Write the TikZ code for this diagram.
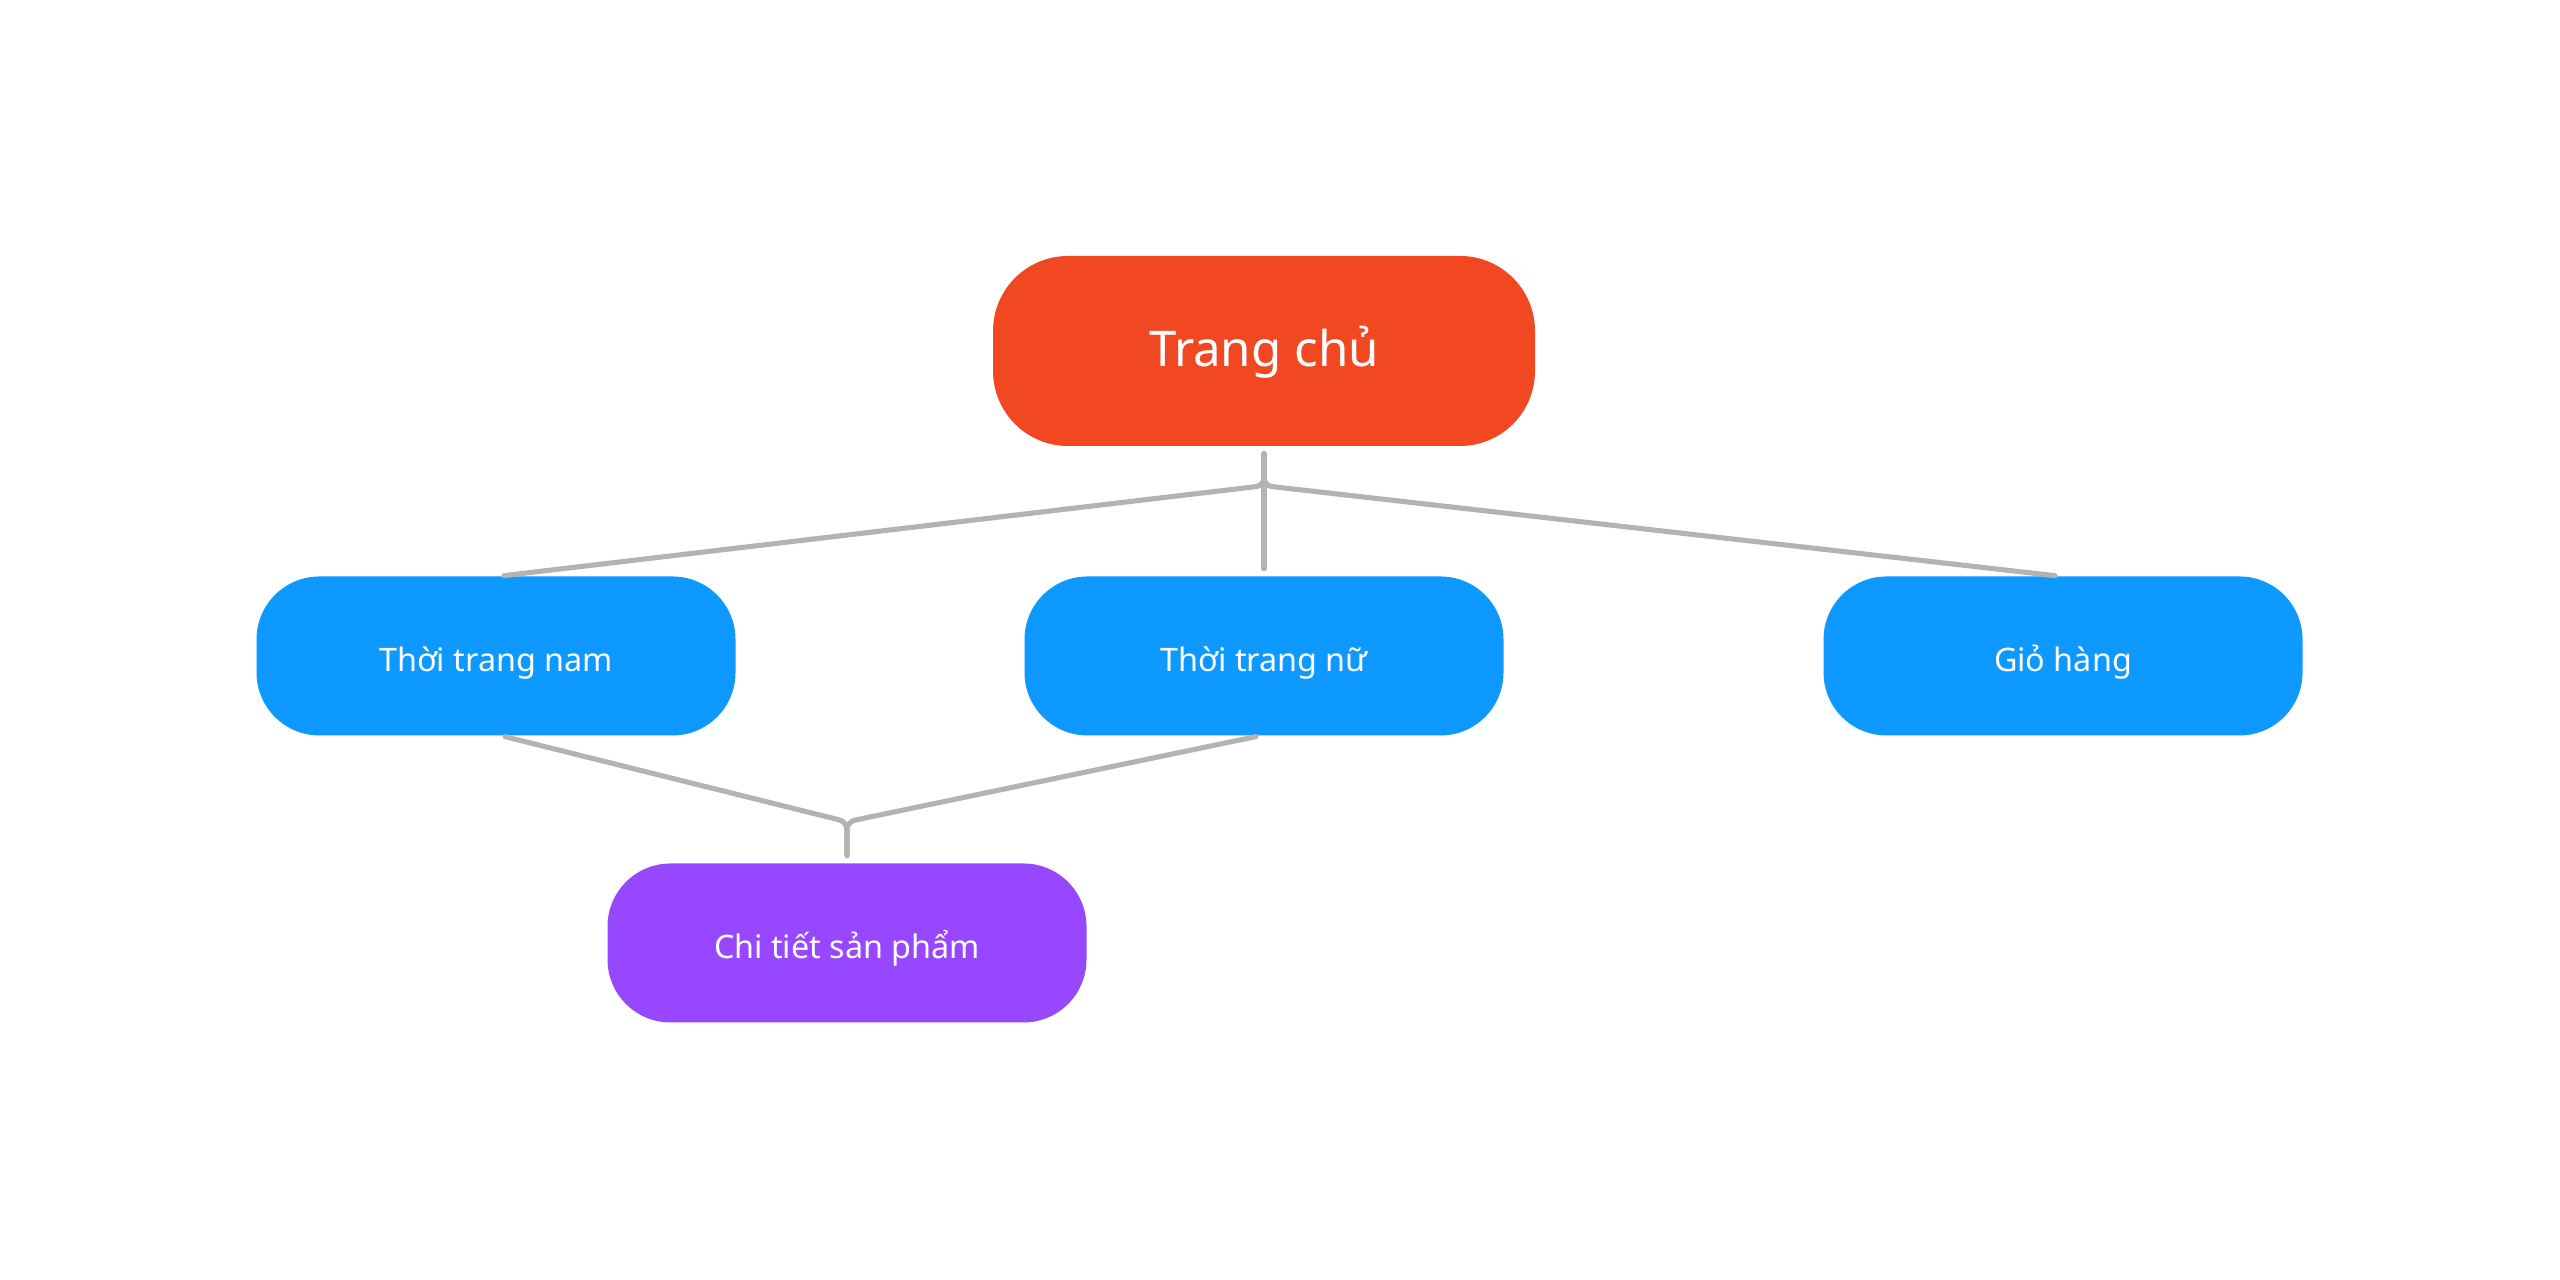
\documentclass[tikz,border=0pt]{standalone}
\usepackage{fontspec}
\setmainfont{Noto Sans}
\usetikzlibrary{positioning}

\definecolor{homered}{HTML}{F24822}
\definecolor{pageblue}{HTML}{0D99FF}
\definecolor{detailpurple}{HTML}{9747FF}
\definecolor{linkgray}{HTML}{B3B3B3}

\tikzset{
  page/.style={fill=pageblue, text=white, minimum width=4.79cm, minimum height=1.59cm,
    rounded corners=0.63cm, font=\fontsize{9.2}{11}\selectfont, inner sep=0pt,
    text height=1em, text depth=0.14em},
  link/.style={draw=linkgray, line width=1.45pt, line cap=round, rounded corners=0.08cm}
}

\begin{document}
\begin{tikzpicture}
\useasboundingbox (0,0) rectangle (25.6,12.8);

% pages
\node[fill=homered, text=white, minimum width=5.42cm, minimum height=1.90cm,
  rounded corners=0.75cm, font=\fontsize{14}{16}\selectfont, inner sep=0pt,
  text height=1em, text depth=0.14em]
  (home) at (12.64,9.29) {Trang chủ};
\node[page] (men) at (4.96,6.24) {Thời trang nam};
\node[page] (women) at (12.64,6.24) {Thời trang nữ};
\node[page] (cart) at (20.63,6.24) {Giỏ hàng};
\node[page, fill=detailpurple] (detail) at (8.47,3.37) {Chi tiết sản phẩm};

% branch points
\coordinate[below=0.39cm of home.south] (homehub);
\coordinate[above=0.41cm of detail.north] (detailhub);

% links from the home page
\draw[link, shorten <=0.07cm, shorten >=0.01cm] (home.south) -- (homehub) -- ([xshift=0.07cm]men.north);
\draw[link, shorten <=0.07cm, shorten >=0.07cm] (home.south) -- (women.north);
\draw[link, shorten <=0.07cm, shorten >=0.01cm] (home.south) -- (homehub) -- ([xshift=-0.07cm]cart.north);

% links to the product page
\draw[link, shorten <=0.02cm, shorten >=0.07cm] ([xshift=0.07cm]men.south) -- (detailhub) -- (detail.north);
\draw[link, shorten <=0.02cm, shorten >=0.07cm] ([xshift=-0.06cm]women.south) -- (detailhub) -- (detail.north);

\end{tikzpicture}
\end{document}
